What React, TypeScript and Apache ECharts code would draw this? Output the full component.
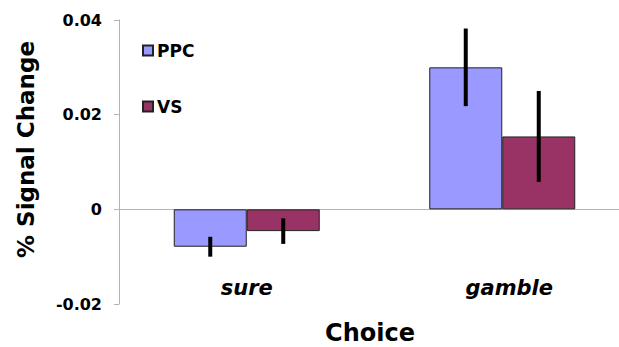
import React, { useEffect, useRef } from "react";
import * as echarts from "echarts";

const categories = ["sure", "gamble"];
const seriesNames = ["PPC", "VS"];
const ppcValues = [-0.0079, 0.03];
const vsValues = [-0.0046, 0.0154];
const ppcErrors = [0.0021, 0.0082];
const vsErrors = [0.0027, 0.0096];
const yTicks = [-0.02, 0, 0.02, 0.04];

const FONT = "DejaVu Sans";
const BAR_W = 73;

export default function App() {
  const ref = useRef<HTMLDivElement>(null);
  useEffect(() => {
    if (!ref.current) return;
    const chart = echarts.init(ref.current, null, { renderer: "svg" });

    const errData = (vals: number[], errs: number[]) =>
      vals.map((v, i) => [i, v - errs[i], v + errs[i]]);

    const errSeries = (name: string, vals: number[], errs: number[], offset: number) => ({
      type: "custom",
      name: name + " error",
      z: 10,
      silent: true,
      data: errData(vals, errs),
      encode: { x: 0, y: [1, 2] },
      renderItem: (params: any, api: any) => {
        const lo = api.coord([api.value(0), api.value(1)]);
        const hi = api.coord([api.value(0), api.value(2)]);
        const x = lo[0] + offset;
        return {
          type: "line",
          shape: { x1: x, y1: lo[1], x2: x, y2: hi[1] },
          style: { stroke: "#000", lineWidth: 4 },
        };
      },
    });

    const catLabelStyle = {
      fontFamily: FONT,
      fontWeight: "bold",
      fontStyle: "italic",
      fontSize: 21,
      color: "#000",
    };

    chart.setOption({
      animation: false,
      backgroundColor: "#fff",
      grid: { left: 119, top: 20, width: 511, height: 284, outerBoundsMode: "none", containLabel: false },
      legend: [
        {
          data: [seriesNames[0]],
          left: 142,
          top: 42,
          orient: "vertical",
          padding: 0,
          itemWidth: 10,
          itemHeight: 10,
          icon: "rect",
          textStyle: { fontFamily: FONT, fontWeight: "bold", fontSize: 17, color: "#000", padding: [0, 0, 0, -1] },
        },
        {
          data: [seriesNames[1]],
          left: 142,
          top: 98,
          orient: "vertical",
          padding: 0,
          itemWidth: 10,
          itemHeight: 10,
          icon: "rect",
          textStyle: { fontFamily: FONT, fontWeight: "bold", fontSize: 17, color: "#000", padding: [0, 0, 0, -1] },
        },
      ],
      xAxis: {
        type: "category",
        data: categories,
        name: "Choice",
        nameLocation: "middle",
        nameGap: 17,
        nameTextStyle: {
          fontFamily: FONT,
          fontWeight: "bold",
          fontSize: 24,
          color: "#000",
          padding: [0, 9, 0, 0],
        },
        axisLine: { onZero: true, lineStyle: { color: "#b3b3b3", width: 1 } },
        axisTick: { show: false },
        axisLabel: {
          margin: -27,
          ...catLabelStyle,
          formatter: (v: string) => (v === "gamble" ? "{g|" + v + "}" : "{s|" + v + "}"),
          rich: {
            s: { ...catLabelStyle, padding: [0, 0, 0, 0] },
            g: { ...catLabelStyle, padding: [0, 0, 0, 14] },
          },
        },
        splitLine: { show: false },
      },
      yAxis: {
        type: "value",
        min: yTicks[0],
        max: yTicks[yTicks.length - 1],
        interval: 0.02,
        name: "% Signal Change",
        nameLocation: "middle",
        nameGap: 82,
        nameTextStyle: {
          fontFamily: FONT,
          fontWeight: "bold",
          fontSize: 23,
          color: "#000",
          padding: [0, 0, 0, 25],
        },
        axisLine: { show: true, lineStyle: { color: "#b3b3b3", width: 1 } },
        axisTick: { show: true, length: 5, lineStyle: { color: "#b3b3b3" } },
        axisLabel: {
          margin: 17,
          fontFamily: FONT,
          fontWeight: "bold",
          fontSize: 16,
          color: "#000",
          formatter: (v: number) => (Math.abs(v) < 1e-9 ? "0" : String(Number(v.toFixed(2)))),
        },
        splitLine: { show: false },
      },
      series: [
        {
          type: "bar",
          name: seriesNames[0],
          data: ppcValues,
          barWidth: BAR_W,
          barGap: "0%",
          itemStyle: { color: "#9999ff", borderColor: "#222", borderWidth: 1 },
        },
        {
          type: "bar",
          name: seriesNames[1],
          data: vsValues,
          barWidth: BAR_W,
          barGap: "0%",
          itemStyle: { color: "#993366", borderColor: "#222", borderWidth: 1 },
        },
        errSeries(seriesNames[0], ppcValues, ppcErrors, -BAR_W / 2),
        errSeries(seriesNames[1], vsValues, vsErrors, BAR_W / 2),
      ],
    });
    return () => chart.dispose();
  }, []);
  return <div ref={ref} style={{ position: "fixed", left: 0, top: 0, width: 619, height: 347 }} />;
}
